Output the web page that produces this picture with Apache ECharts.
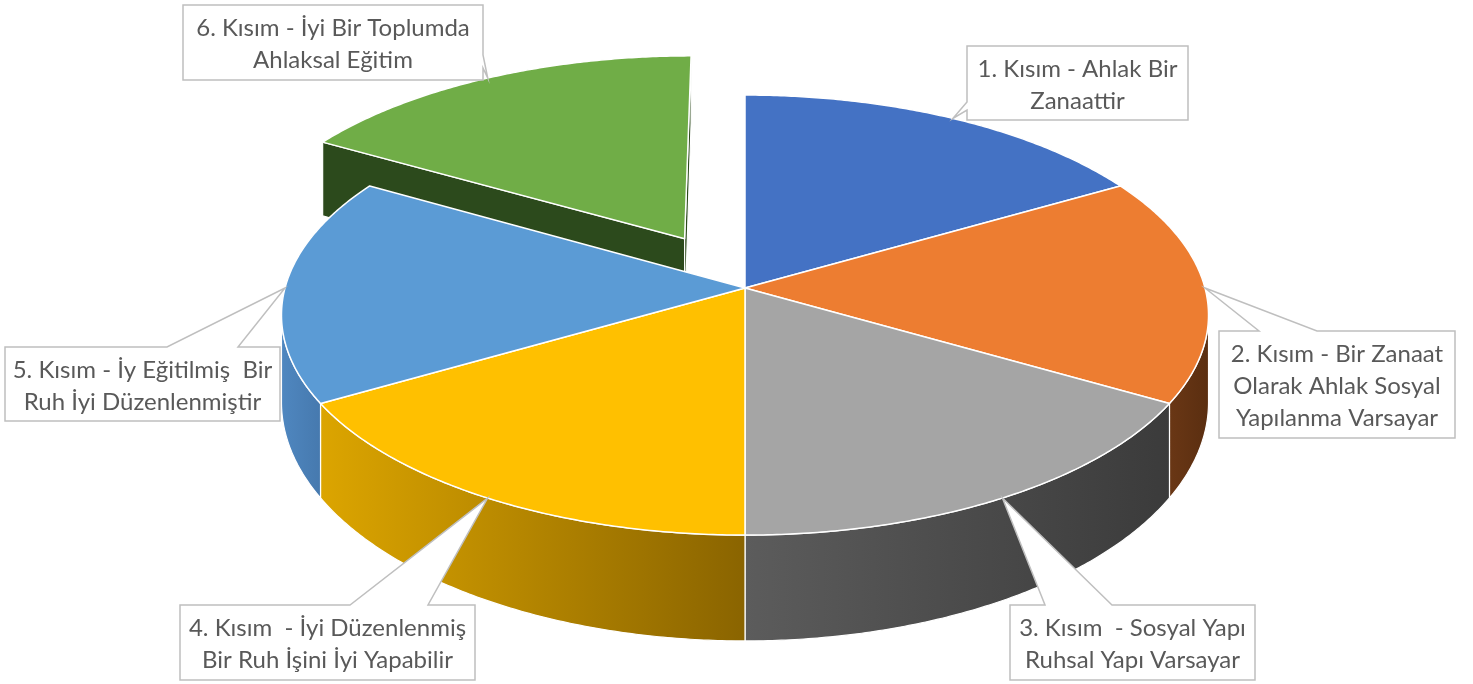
<!DOCTYPE html>
<html>
<head>
<meta charset="utf-8">
<title>Ahlak Kısımları</title>
<script src="https://cdn.jsdelivr.net/npm/echarts@6/dist/echarts.min.js"></script>
<style>
html, body { margin: 0; padding: 0; background: #fff; }
#main { width: 1473px; height: 684px; }
</style>
</head>
<body>
<div id="main"></div>
<script>
// slice names, broken the same way as in the callouts
var categories = [
  '1. Kısım - Ahlak Bir\nZanaattir',
  '2. Kısım - Bir Zanaat\nOlarak Ahlak Sosyal\nYapılanma Varsayar',
  '3. Kısım  - Sosyal Yapı\nRuhsal Yapı Varsayar',
  '4. Kısım  - İyi Düzenlenmiş\nBir Ruh İşini İyi Yapabilir',
  '5. Kısım - İy Eğitilmiş  Bir\nRuh İyi Düzenlenmiştir',
  '6. Kısım - İyi Bir Toplumda\nAhlaksal Eğitim'
]
var values = [1, 1, 1, 1, 1, 1]

// styling
var explode = [0, 0, 0, 0, 0, 0.27]
var topColors = ['#4472C4', '#ED7D31', '#A5A5A5', '#FFC000', '#5B9BD5', '#70AD47']
var wallColors = [
  ['#2f5597', '#2f5597'],
  ['#6a3715', '#5a2e10'],
  ['#5c5c5c', '#3b3b3b'],
  ['#dca500', '#8a6400'],
  ['#4f87c0', '#4679ae'],
  ['#2c4a1c', '#2c4a1c']
]
// callout boxes: left, top, width, height, wedge side, wedge from, wedge to
var boxes = [
  [967, 46, 221, 74, 'left', 56, 64],
  [1219, 331, 236, 107, 'top', 40, 98],
  [1010, 605, 245, 75, 'top', 35, 102],
  [180, 605, 295, 75, 'top', 170, 248],
  [5, 347, 275, 74, 'top', 162, 233],
  [183, 5, 300, 75, 'right', 50, 63]
]

// fake 3d projection
var cx = 745, cy = 288, rx = 460, ry = 216.7
var persp = 0.123, depth = 85, depthPow = 1.67
var visFrom = Math.acos(-persp)
var visTo = 2 * Math.PI - visFrom

var total = 0
var starts = []
for (var i = 0; i < values.length; i++) {
  starts.push(total)
  total += values[i]
}

function proj (theta, r, off, down) {
  var u = off[0] + r * Math.sin(theta)
  var v = off[1] + r * Math.cos(theta)
  var f = 1 / (1 + persp * v)
  return [cx + rx * u * f, cy - ry * v * f + (down ? depth * Math.pow(f, depthPow) : 0)]
}

function arc (from, to, off, down) {
  var n = Math.max(2, Math.ceil(Math.abs(to - from) / (Math.PI / 360)))
  var pts = []
  for (var k = 0; k <= n; k++) {
    pts.push(proj(from + (to - from) * k / n, 1, off, down))
  }
  return pts
}

function callout (b, tip) {
  var L = b[0], T = b[1], R = b[0] + b[2], B = b[1] + b[3]
  if (b[4] === 'top') {
    return [[L, T], [L + b[5], T], tip, [L + b[6], T], [R, T], [R, B], [L, B]]
  }
  if (b[4] === 'left') {
    return [[L, T], [R, T], [R, B], [L, B], [L, T + b[6]], tip, [L, T + b[5]]]
  }
  return [[L, T], [R, T], [R, T + b[5]], tip, [R, T + b[6]], [R, B], [L, B]]
}

function renderItem (params, api) {
  var i = params.dataIndex
  var a0 = 2 * Math.PI * starts[i] / total
  var a1 = a0 + 2 * Math.PI * api.value(0) / total
  var mid = (a0 + a1) / 2
  var e = explode[i]
  var off = [e * Math.sin(mid), e * Math.cos(mid)]
  var base = e > 0 ? 0 : 10
  var children = []

  // top face
  var top = [proj(0, 0, off, false)].concat(arc(a0, a1, off, false))
  children.push({
    type: 'polygon',
    z2: base + 4,
    shape: {points: top},
    style: {fill: topColors[i], stroke: '#fff', lineWidth: 1.5, lineJoin: 'round'}
  })

  // outer wall, only the part facing us
  var w0 = Math.max(a0, visFrom)
  var w1 = Math.min(a1, visTo)
  if (w1 > w0) {
    var wall = arc(w0, w1, off, false).concat(arc(w1, w0, off, true))
    children.push({
      type: 'polygon',
      z2: base + 3,
      shape: {points: wall},
      style: {
        fill: new echarts.graphic.LinearGradient(0, 0, 1, 0, [
          {offset: 0, color: wallColors[i][0]},
          {offset: 1, color: wallColors[i][1]}
        ]),
        stroke: '#fff',
        lineWidth: 1.2
      }
    })
  }

  // cut faces of the pulled out slice
  if (e > 0) {
    [a0, a1].forEach(function (a) {
      children.push({
        type: 'polygon',
        z2: base + 2,
        shape: {points: [proj(0, 0, off, false), proj(a, 1, off, false), proj(a, 1, off, true), proj(0, 0, off, true)]},
        style: {fill: wallColors[i][0], stroke: '#fff', lineWidth: 1.2}
      })
    })
  }

  // callout label
  var b = boxes[i]
  var tip = proj(mid, 1, off, false)
  children.push({
    type: 'polygon',
    z2: 40,
    shape: {points: callout(b, tip)},
    style: {fill: '#fff', stroke: '#bfbfbf', lineWidth: 1.5}
  })
  children.push({
    type: 'text',
    z2: 41,
    style: {
      text: categories[i],
      x: b[0] + b[2] / 2,
      y: b[1] + b[3] / 2 + 2,
      align: 'center',
      verticalAlign: 'middle',
      fill: '#595959',
      font: '24px Lato',
      lineHeight: 32
    }
  })

  return {type: 'group', children: children}
}

var chart = echarts.init(document.getElementById('main'))
chart.setOption({
  animation: false,
  series: [{
    type: 'custom',
    coordinateSystem: 'none',
    renderItem: renderItem,
    data: values
  }]
})
</script>
</body>
</html>
